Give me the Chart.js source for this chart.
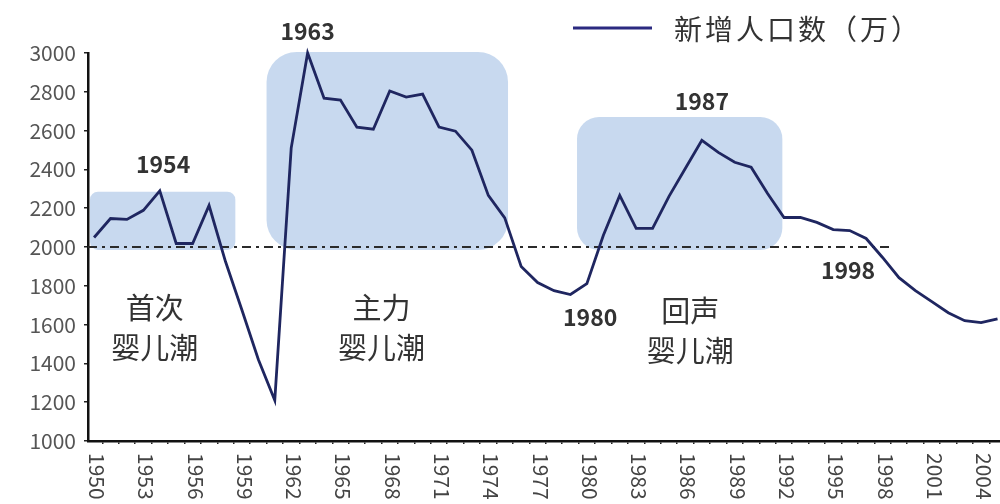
<!DOCTYPE html>
<html>
<head>
<meta charset="utf-8">
<script src="https://cdn.jsdelivr.net/npm/chart.js@4"></script>
<style>
  body { margin: 0; background: #fff; }
</style>
</head>
<body>
<canvas id="births" width="1000" height="504"></canvas>
<script>
// years and newborns (万)
const years = [1950, 1951, 1952, 1953, 1954, 1955, 1956, 1957, 1958, 1959,
  1960, 1961, 1962, 1963, 1964, 1965, 1966, 1967, 1968, 1969,
  1970, 1971, 1972, 1973, 1974, 1975, 1976, 1977, 1978, 1979,
  1980, 1981, 1982, 1983, 1984, 1985, 1986, 1987, 1988, 1989,
  1990, 1991, 1992, 1993, 1994, 1995, 1996, 1997, 1998, 1999,
  2000, 2001, 2002, 2003, 2004, 2005];
const births = [2049, 2147, 2142, 2189, 2290, 2018, 2018, 2214, 1925, 1675,
  1420, 1210, 2510, 3000, 2767, 2757, 2618, 2607, 2804, 2773,
  2788, 2618, 2597, 2499, 2266, 2150, 1900, 1817, 1775, 1755,
  1811, 2059, 2266, 2096, 2096, 2261, 2406, 2550, 2488, 2437,
  2411, 2276, 2152, 2152, 2127, 2090, 2085, 2044, 1946, 1842,
  1775, 1718, 1661, 1620, 1610, 1630];
const yTicks = [1000, 1200, 1400, 1600, 1800, 2000, 2200, 2400, 2600, 2800, 3000];
const xLabelYears = [1950, 1953, 1956, 1959, 1962, 1965, 1968, 1971, 1974, 1977,
  1980, 1983, 1986, 1989, 1992, 1995, 1998, 2001, 2004];

const seriesName = "新增人口数（万）";
const refLine = 2000;

// shaded baby boom periods: [fromYear, toYear, low, high]
const booms = [
  [1949.75, 1958.6, 1985, 2285],
  [1960.5, 1975.2, 1985, 3005],
  [1979.4, 1991.9, 1985, 2670]
];
const boomNames = [["首次", "婴儿潮"], ["主力", "婴儿潮"], ["回声", "婴儿潮"]];
const boomNamePos = [[1953.7, 1580], [1967.5, 1580], [1986.3, 1565]];
const peakLabels = [["1954", 1954.2, 2425], ["1963", 1963, 3110], ["1987", 1987, 2750],
  ["1980", 1980.2, 1640], ["1998", 1995.9, 1880]];

const CJK = '"Noto Sans CJK SC", "Noto Sans", sans-serif';
const radii = [8, 30, 22];

const decor = {
  id: "decor",
  beforeDatasetsDraw(chart) {
    const { ctx, scales: { x, y } } = chart;
    ctx.save();
    ctx.fillStyle = "rgba(170, 196, 230, 0.65)";
    booms.forEach((b, i) => {
      const l = x.getPixelForValue(b[0]), r = x.getPixelForValue(b[1]);
      const t = y.getPixelForValue(b[3]), btm = y.getPixelForValue(b[2]);
      ctx.beginPath();
      ctx.roundRect(l, t, r - l, btm - t, radii[i]);
      ctx.fill();
    });
    // dash-dot 2000 line
    ctx.strokeStyle = "#2b2b2b";
    ctx.lineWidth = 2;
    ctx.setLineDash([9, 5, 3, 5]);
    const yy = y.getPixelForValue(refLine);
    ctx.beginPath();
    ctx.moveTo(x.left, yy);
    ctx.lineTo(x.getPixelForValue(1998.6), yy);
    ctx.stroke();
    ctx.restore();
  },
  afterDraw(chart) {
    const { ctx, scales: { x, y } } = chart;
    ctx.save();
    // rotated year labels (reading downwards)
    ctx.fillStyle = "#444";
    ctx.font = "21px " + CJK;
    ctx.textAlign = "left";
    ctx.textBaseline = "middle";
    xLabelYears.forEach(yr => {
      ctx.save();
      ctx.translate(x.getPixelForValue(yr) + 3, y.bottom + 12);
      ctx.rotate(Math.PI / 2);
      ctx.fillText(String(yr), 0, 0);
      ctx.restore();
    });
    // year callouts
    ctx.fillStyle = "#333";
    ctx.textAlign = "center";
    ctx.font = "bold 23px " + CJK;
    peakLabels.forEach(p => {
      ctx.fillText(p[0], x.getPixelForValue(p[1]), y.getPixelForValue(p[2]));
    });
    // boom names
    ctx.font = "29px " + CJK;
    boomNames.forEach((lines, i) => {
      const cx = x.getPixelForValue(boomNamePos[i][0]);
      const cy = y.getPixelForValue(boomNamePos[i][1]);
      ctx.fillText(lines[0], cx, cy - 20);
      ctx.fillText(lines[1], cx, cy + 20);
    });
    // legend
    ctx.strokeStyle = "#2b2a80";
    ctx.lineWidth = 3;
    ctx.beginPath();
    ctx.moveTo(573, 28);
    ctx.lineTo(652, 28);
    ctx.stroke();
    ctx.textAlign = "left";
    ctx.font = "28px " + CJK;
    ctx.letterSpacing = "3px";
    ctx.fillText(seriesName, 674, 29);
    ctx.restore();
  }
};

new Chart(document.getElementById("births"), {
  type: "line",
  data: {
    datasets: [{
      label: seriesName,
      data: years.map((yr, i) => ({ x: yr, y: births[i] })),
      borderColor: "#1f2660",
      borderWidth: 2.8,
      pointRadius: 0,
      tension: 0,
      clip: false
    }]
  },
  options: {
    responsive: false,
    animation: false,
    layout: { padding: { top: 53, right: 0, left: 0, bottom: 0 } },
    plugins: { legend: { display: false }, tooltip: { enabled: false } },
    scales: {
      x: {
        type: "linear",
        min: 1949.63,
        max: 2005.15,
        // ticks sit between the years
        afterBuildTicks: s => { s.ticks = years.map(v => ({ value: v + 0.5 })); },
        afterFit: s => { s.height = 63; },
        grid: { display: true, drawOnChartArea: false, tickLength: 3, color: "#222", lineWidth: 1.5 },
        border: { display: true, color: "#111", width: 2.5 },
        ticks: { display: false }
      },
      y: {
        min: 1000,
        max: 3000,
        afterBuildTicks: s => { s.ticks = yTicks.map(v => ({ value: v })); },
        afterFit: s => { s.width = 88; },
        grid: { display: true, drawOnChartArea: false, tickLength: 4, color: "#222", lineWidth: 1.5 },
        border: { display: true, color: "#111", width: 2.5 },
        ticks: {
          color: "#555", padding: 8, font: { size: 21, family: CJK },
          callback: v => String(v)
        }
      }
    }
  },
  plugins: [decor]
});
</script>
</body>
</html>
